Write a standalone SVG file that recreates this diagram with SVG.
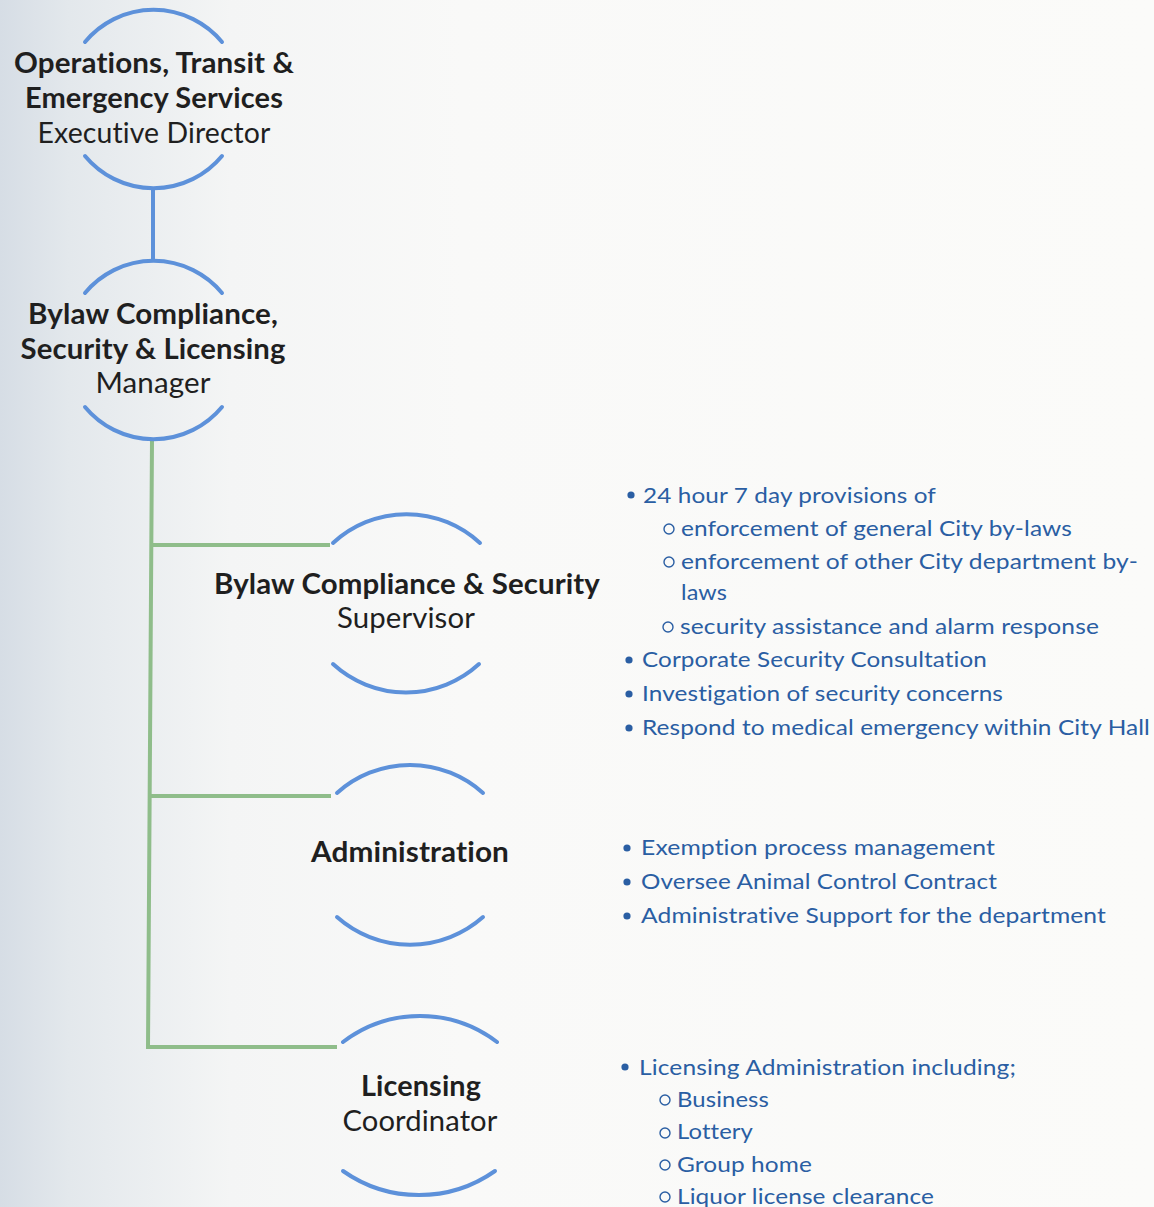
<svg xmlns="http://www.w3.org/2000/svg" width="1154" height="1207" viewBox="0 0 1154 1207">
  <defs>
    <linearGradient id="paper" x1="0" y1="0" x2="1" y2="0">
      <stop offset="0" stop-color="#d6dde5"/>
      <stop offset="0.06" stop-color="#e3e8ec"/>
      <stop offset="0.2" stop-color="#f4f5f5"/>
      <stop offset="0.4" stop-color="#f9f9f8"/>
      <stop offset="1" stop-color="#fbfbf9"/>
    </linearGradient>
    <style>
      .arc { fill: none; stroke: #5d91da; stroke-width: 4; stroke-linecap: round; }
      .link { fill: none; stroke: #8fbd8a; stroke-width: 4; }
      .link-top { fill: none; stroke: #5d91da; stroke-width: 4; }
      text { font-variant-ligatures: none; font-feature-settings: "liga" 0, "clig" 0, "dlig" 0, "calt" 0; letter-spacing: 0.1px; }
      .title { font-family: Lato, "Open Sans", "Noto Sans", sans-serif; font-size: 28px; fill: #1f1f1f; text-anchor: middle; }
      .b { font-weight: 700; }
      .item { font-family: Lato, "Open Sans", "Noto Sans", sans-serif; font-size: 22px; fill: #2a5ea3; }
      .dot { fill: #2a5ea3; }
      .ring { fill: none; stroke: #2a5ea3; stroke-width: 1.4; }
    </style>
  </defs>

  <rect x="0" y="0" width="1154" height="1207" fill="url(#paper)"/>

  <!-- connectors -->
  <g id="connectors">
    <path class="link-top" d="M153 188 L153 262"/>
    <path class="link" d="M152 440 L148 1047 L337 1047"/>
    <path class="link" d="M151 545 L330 545"/>
    <path class="link" d="M149 796 L331 796"/>
  </g>

  <!-- executive director -->
  <g id="node-executive-director">
    <path class="arc" d="M85 42 A89 89 0 0 1 222 42"/>
    <path class="arc" d="M85 156 A89 89 0 0 0 222 156"/>
    <text class="title b" x="154" y="73" textLength="280" lengthAdjust="spacingAndGlyphs">Operations, Transit &amp;</text>
    <text class="title b" x="154" y="108" textLength="258" lengthAdjust="spacingAndGlyphs">Emergency Services</text>
    <text class="title" x="154" y="143" textLength="233" lengthAdjust="spacingAndGlyphs">Executive Director</text>
  </g>

  <!-- manager -->
  <g id="node-manager">
    <path class="arc" d="M85 293 A89 89 0 0 1 222 293"/>
    <path class="arc" d="M85 407 A89 89 0 0 0 222 407"/>
    <text class="title b" x="153" y="324" textLength="250" lengthAdjust="spacingAndGlyphs">Bylaw Compliance,</text>
    <text class="title b" x="153" y="359" textLength="265" lengthAdjust="spacingAndGlyphs">Security &amp; Licensing</text>
    <text class="title" x="153" y="393" textLength="115" lengthAdjust="spacingAndGlyphs">Manager</text>
  </g>

  <!-- supervisor -->
  <g id="node-supervisor">
    <path class="arc" d="M333 543 A108 108 0 0 1 480 543"/>
    <path class="arc" d="M333 664 A108 108 0 0 0 479 664"/>
    <text class="title b" x="407" y="594" textLength="386" lengthAdjust="spacingAndGlyphs">Bylaw Compliance &amp; Security</text>
    <text class="title" x="406" y="628" textLength="138" lengthAdjust="spacingAndGlyphs">Supervisor</text>
  </g>

  <!-- administration -->
  <g id="node-administration">
    <path class="arc" d="M337 793 A109 109 0 0 1 483 793"/>
    <path class="arc" d="M337 917 A110 110 0 0 0 483 917"/>
    <text class="title b" x="410" y="862" textLength="198" lengthAdjust="spacingAndGlyphs">Administration</text>
  </g>

  <!-- licensing coordinator -->
  <g id="node-licensing">
    <path class="arc" d="M343 1042 A127 127 0 0 1 497 1042"/>
    <path class="arc" d="M343 1171 A132 132 0 0 0 495 1171"/>
    <text class="title b" x="421" y="1096" textLength="120" lengthAdjust="spacingAndGlyphs">Licensing</text>
    <text class="title" x="420" y="1131" textLength="155" lengthAdjust="spacingAndGlyphs">Coordinator</text>
  </g>

  <!-- supervisor duties -->
  <g id="duties-supervisor">
    <circle class="dot" cx="631" cy="495" r="3.6"/>
    <text class="item" x="643" y="503" textLength="293" lengthAdjust="spacingAndGlyphs">24 hour 7 day provisions of</text>
    <circle class="ring" cx="669" cy="529" r="5"/>
    <text class="item" x="681" y="536" textLength="391" lengthAdjust="spacingAndGlyphs">enforcement of general City by-laws</text>
    <circle class="ring" cx="669" cy="562" r="5"/>
    <text class="item" x="681" y="569" textLength="457" lengthAdjust="spacingAndGlyphs">enforcement of other City department by-</text>
    <text class="item" x="681" y="600" textLength="46" lengthAdjust="spacingAndGlyphs">laws</text>
    <circle class="ring" cx="668" cy="627" r="5"/>
    <text class="item" x="680" y="634" textLength="419" lengthAdjust="spacingAndGlyphs">security assistance and alarm response</text>
    <circle class="dot" cx="629" cy="660" r="3.6"/>
    <text class="item" x="642" y="667" textLength="345" lengthAdjust="spacingAndGlyphs">Corporate Security Consultation</text>
    <circle class="dot" cx="629" cy="694" r="3.6"/>
    <text class="item" x="642" y="701" textLength="361" lengthAdjust="spacingAndGlyphs">Investigation of security concerns</text>
    <circle class="dot" cx="629" cy="728" r="3.6"/>
    <text class="item" x="642" y="735" textLength="508" lengthAdjust="spacingAndGlyphs">Respond to medical emergency within City Hall</text>
  </g>

  <!-- administration duties -->
  <g id="duties-administration">
    <circle class="dot" cx="627" cy="848" r="3.6"/>
    <text class="item" x="641" y="855" textLength="354" lengthAdjust="spacingAndGlyphs">Exemption process management</text>
    <circle class="dot" cx="627" cy="882" r="3.6"/>
    <text class="item" x="641" y="889" textLength="356" lengthAdjust="spacingAndGlyphs">Oversee Animal Control Contract</text>
    <circle class="dot" cx="627" cy="916" r="3.6"/>
    <text class="item" x="641" y="923" textLength="465" lengthAdjust="spacingAndGlyphs">Administrative Support for the department</text>
  </g>

  <!-- licensing duties -->
  <g id="duties-licensing">
    <circle class="dot" cx="625" cy="1067" r="3.6"/>
    <text class="item" x="639" y="1075" textLength="377" lengthAdjust="spacingAndGlyphs">Licensing Administration including;</text>
    <circle class="ring" cx="665" cy="1100" r="5"/>
    <text class="item" x="677" y="1107" textLength="92" lengthAdjust="spacingAndGlyphs">Business</text>
    <circle class="ring" cx="665" cy="1133" r="5"/>
    <text class="item" x="677" y="1139" textLength="76" lengthAdjust="spacingAndGlyphs">Lottery</text>
    <circle class="ring" cx="665" cy="1165" r="5"/>
    <text class="item" x="677" y="1172" textLength="135" lengthAdjust="spacingAndGlyphs">Group home</text>
    <circle class="ring" cx="665" cy="1197" r="5"/>
    <text class="item" x="677" y="1204" textLength="257" lengthAdjust="spacingAndGlyphs">Liquor license clearance</text>
  </g>
</svg>
